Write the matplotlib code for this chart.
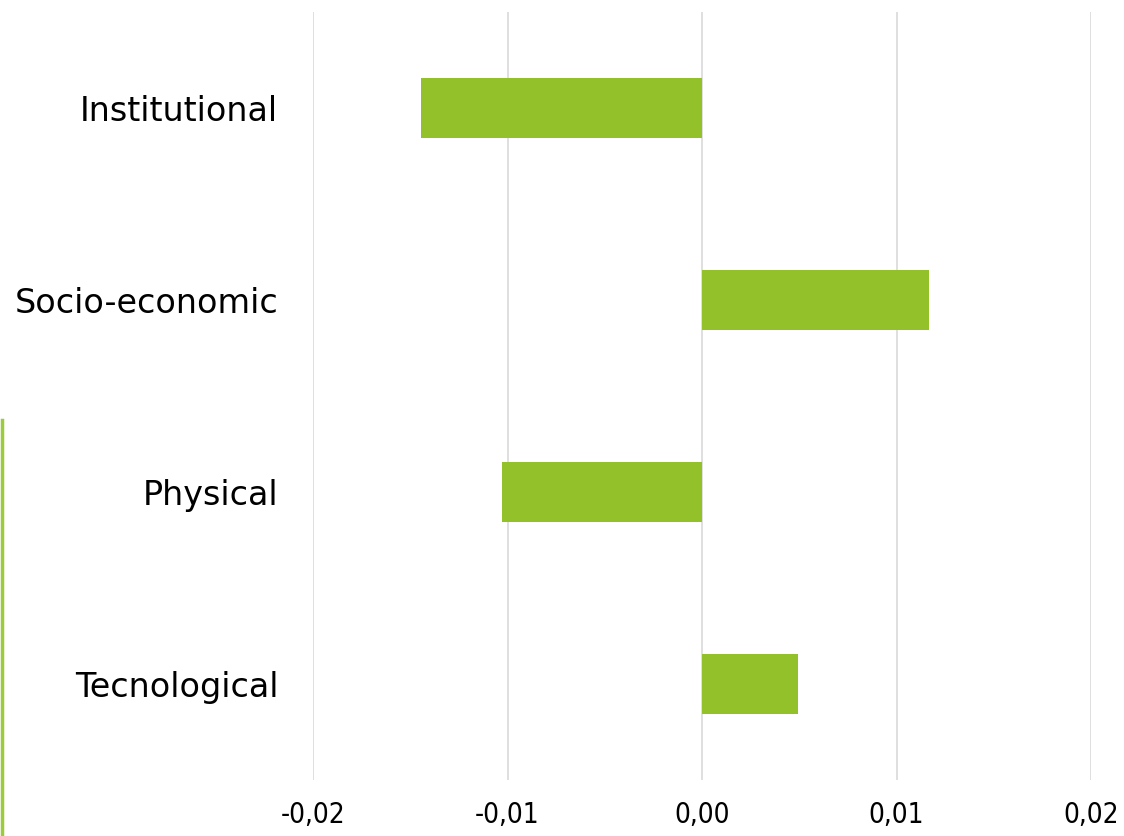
import matplotlib
matplotlib.use("Agg")
import matplotlib.pyplot as plt
from matplotlib.lines import Line2D

# Chart data
categories = ["Institutional", "Socio-economic", "Physical", "Tecnological"]
values = [-0.01445, 0.01167, -0.01028, 0.00494]
x_ticks = [-0.02, -0.01, 0.0, 0.01, 0.02]
x_tick_labels = ["-0,02", "-0,01", "0,00", "0,01", "0,02"]

bar_color = "#92C12A"
grid_color = "#D9D9D9"

fig = plt.figure(figsize=(11.24, 8.36), dpi=100)
ax = fig.add_axes([313 / 1124, 1 - 780 / 836, (1091 - 313) / 1124, 768 / 836])

ypos = list(range(len(categories)))
ax.barh(ypos, values, height=0.31, color=bar_color, zorder=3)

ax.set_xlim(-0.02, 0.02)
ax.set_ylim(len(categories) - 0.5, -0.5)

ax.set_xticks(x_ticks)
ax.set_xticklabels(x_tick_labels, family="DejaVu Sans", stretch="condensed", fontsize=20)
ax.set_yticks(ypos)
ax.set_yticklabels(categories, family="DejaVu Sans", fontsize=24)

ax.tick_params(axis="x", length=0, pad=15)
ax.tick_params(axis="y", length=0, pad=25)

ax.grid(axis="x", color=grid_color, linewidth=1.2, zorder=0)
for s in ax.spines.values():
    s.set_visible(False)

# thin green edge line at the left border of the picture
fig.add_artist(Line2D([1.5 / 1124, 1.5 / 1124], [0, 1 - 420 / 836],
                      transform=fig.transFigure, color="#9CCB3B", linewidth=2.5))

fig.savefig("out.png", dpi=100)
